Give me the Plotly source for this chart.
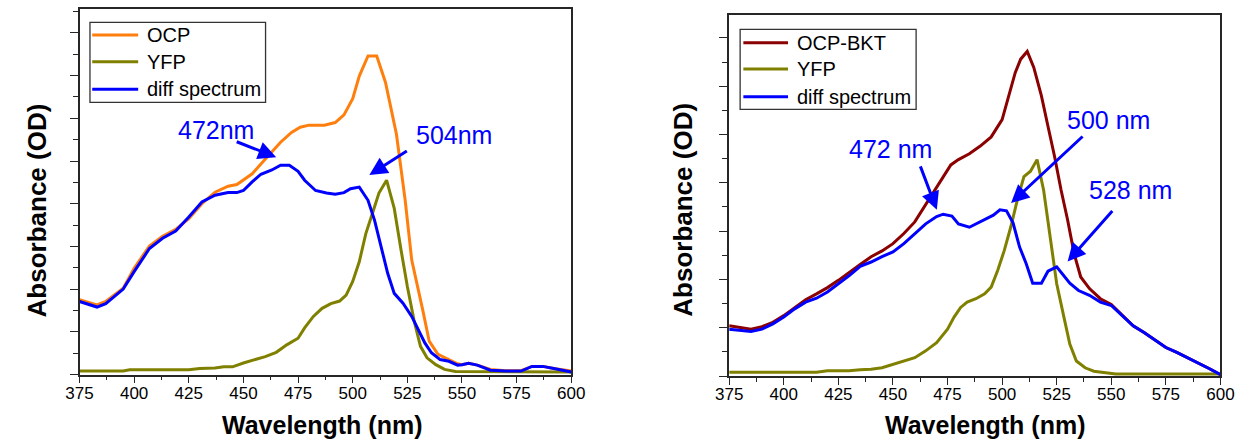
import plotly.graph_objects as go

W, H = 1255, 443

# ---- Left panel: OCP ----
ocp_wl = [375, 383, 387, 395, 400, 407, 413, 419, 425, 431, 437, 443, 447, 450,
          454, 458, 463, 467, 472, 476, 480, 487, 492, 496, 500, 503, 507, 511,
          515, 520, 524, 527, 532, 535, 539, 544, 548, 550, 553, 557, 563, 570,
          577, 582, 587, 592, 600]
ocp_abs = [0.175, 0.163, 0.171, 0.202, 0.249, 0.301, 0.324, 0.340, 0.365, 0.400,
           0.427, 0.441, 0.445, 0.455, 0.470, 0.493, 0.521, 0.544, 0.567, 0.579,
           0.584, 0.584, 0.590, 0.608, 0.646, 0.699, 0.746, 0.746, 0.684, 0.563,
           0.408, 0.268, 0.152, 0.078, 0.047, 0.035, 0.025, 0.023, 0.026, 0.022,
           0.012, 0.009, 0.009, 0.019, 0.019, 0.014, 0.008]

yfp1_wl = [375, 395, 398, 425, 430, 437, 441, 445, 450, 455, 460, 465, 470, 475,
           478, 482, 486, 490, 494, 497, 500, 503, 506, 509, 512, 515.5, 519, 522,
           525, 528, 531, 534, 538, 542, 547, 600]
yfp1_abs = [0.008, 0.008, 0.011, 0.011, 0.014, 0.015, 0.018, 0.018, 0.027, 0.034,
            0.042, 0.052, 0.070, 0.085, 0.109, 0.136, 0.155, 0.166, 0.172, 0.186,
            0.218, 0.264, 0.330, 0.377, 0.425, 0.455, 0.389, 0.295, 0.206, 0.128,
            0.066, 0.039, 0.023, 0.012, 0.007, 0.006]

diff1_wl = [375, 383, 387, 395, 400, 407, 413, 419, 425, 431, 437, 443, 447, 450,
            454, 458, 463, 467, 471, 475, 478, 483, 488, 492, 496, 499, 503, 507,
            510, 513, 516, 519, 523, 527, 530, 533, 536, 540, 544, 548, 550, 553,
            557, 563, 570, 577, 582, 587, 592, 600]
diff1_abs = [0.171, 0.158, 0.166, 0.200, 0.241, 0.295, 0.319, 0.336, 0.369, 0.404,
             0.420, 0.426, 0.426, 0.431, 0.451, 0.469, 0.479, 0.490, 0.490, 0.476,
             0.455, 0.431, 0.425, 0.422, 0.426, 0.435, 0.439, 0.408, 0.361, 0.299,
             0.237, 0.190, 0.167, 0.136, 0.105, 0.074, 0.051, 0.035, 0.031, 0.022,
             0.023, 0.026, 0.022, 0.010, 0.008, 0.008, 0.019, 0.019, 0.014, 0.006]

# ---- Right panel: OCP-BKT ----
bkt_wl = [375, 380, 385, 390, 395, 400, 405, 410, 415, 420, 425, 430, 435, 440,
          445, 450, 455, 460, 465, 470, 473, 476.5, 480, 485, 490, 495, 500, 503,
          506, 508.5, 511.5, 514.5, 518, 521, 524, 527, 530, 533, 536, 540, 545,
          550, 555, 560, 565, 570, 575, 580, 585, 590, 595, 600]
bkt_abs = [0.104, 0.101, 0.097, 0.102, 0.111, 0.125, 0.142, 0.158, 0.170, 0.183,
           0.198, 0.215, 0.231, 0.247, 0.259, 0.274, 0.295, 0.319, 0.354, 0.389,
           0.410, 0.437, 0.448, 0.460, 0.476, 0.495, 0.531, 0.580, 0.628, 0.656,
           0.672, 0.639, 0.580, 0.517, 0.455, 0.385, 0.323, 0.253, 0.205, 0.181,
           0.160, 0.148, 0.125, 0.104, 0.090, 0.074, 0.059, 0.049, 0.038, 0.026,
           0.015, 0.003]

yfp2_wl = [375, 415, 420, 430, 435, 440, 445, 450, 455, 460, 465, 470, 475, 478,
           481, 484, 488, 492, 495, 498, 501, 504, 507, 510, 513, 516, 519, 522,
           525, 528, 531, 534, 538, 542, 548, 552, 600]
yfp2_abs = [0.008, 0.008, 0.011, 0.011, 0.013, 0.014, 0.017, 0.024, 0.030, 0.038,
            0.052, 0.069, 0.097, 0.122, 0.142, 0.153, 0.160, 0.170, 0.184, 0.219,
            0.260, 0.309, 0.365, 0.413, 0.424, 0.448, 0.385, 0.288, 0.191, 0.128,
            0.066, 0.031, 0.017, 0.010, 0.006, 0.004, 0.004]

diff2_wl = [375, 380, 385, 390, 395, 400, 405, 410, 415, 420, 425, 430, 435, 440,
            445, 450, 455, 460, 465, 470, 473, 477, 480, 485, 488, 492, 496, 499,
            502, 505, 508, 511, 514, 518, 521, 525, 528, 531, 535, 540, 545, 550,
            555, 560, 565, 570, 575, 580, 585, 590, 595, 600]
diff2_abs = [0.097, 0.094, 0.092, 0.097, 0.108, 0.122, 0.139, 0.153, 0.161, 0.174,
             0.191, 0.208, 0.227, 0.236, 0.247, 0.257, 0.274, 0.295, 0.315, 0.330,
             0.335, 0.331, 0.315, 0.308, 0.315, 0.323, 0.333, 0.344, 0.342, 0.317,
             0.267, 0.233, 0.192, 0.192, 0.217, 0.226, 0.210, 0.192, 0.177, 0.167,
             0.153, 0.146, 0.125, 0.104, 0.090, 0.074, 0.059, 0.049, 0.038, 0.026,
             0.015, 0.003]

C_OCP = "#FF7F0E"
C_BKT = "#8B0000"
C_YFP = "#808000"
C_DIFF = "#0000FF"
FONT = "Liberation Sans, Arial, sans-serif"
AXC = "#262626"


def px(x):
    return x / W


def py(y):
    return 1 - y / H


fig = go.Figure()

series = [
    ("x", "y", ocp_wl, ocp_abs, C_OCP),
    ("x", "y", yfp1_wl, yfp1_abs, C_YFP),
    ("x", "y", diff1_wl, diff1_abs, C_DIFF),
    ("x2", "y2", bkt_wl, bkt_abs, C_BKT),
    ("x2", "y2", yfp2_wl, yfp2_abs, C_YFP),
    ("x2", "y2", diff2_wl, diff2_abs, C_DIFF),
]
for xa, ya, xs, ys, col in series:
    fig.add_trace(go.Scatter(x=xs, y=ys, mode="lines", xaxis=xa, yaxis=ya,
                             line=dict(color=col, width=3), showlegend=False,
                             hoverinfo="skip"))

xcommon = dict(range=[375, 600], dtick=25, tick0=375, ticks="outside", ticklen=7,
               tickwidth=1.3, tickcolor=AXC, showline=True, linecolor=AXC,
               linewidth=1.5, mirror=True, showgrid=False, zeroline=False,
               ticklabelstandoff=-5,
               tickfont=dict(family=FONT, size=17, color="black"),
               minor=dict(dtick=12.5, ticks="outside", ticklen=4, tickcolor=AXC,
                          tickwidth=1.3, showgrid=False))
ycommon = dict(dtick=0.1, tick0=0, ticks="outside", ticklen=8, tickwidth=1.3,
               tickcolor=AXC, showline=True, linecolor=AXC, linewidth=1.5,
               mirror=True, showgrid=False, zeroline=False, showticklabels=False,
               minor=dict(dtick=0.05, ticks="outside", ticklen=5, tickcolor=AXC,
                          tickwidth=1.3, showgrid=False))

fig.update_layout(
    width=W, height=H, margin=dict(l=0, r=0, t=0, b=0),
    paper_bgcolor="white", plot_bgcolor="white",
    xaxis=dict(domain=[px(67), px(570)], anchor="y", **xcommon),
    yaxis=dict(domain=[py(374.5), py(8.7)], anchor="x", range=[0, 0.8567], **ycommon),
    xaxis2=dict(domain=[px(731.5), px(1234)], anchor="y2", **xcommon),
    yaxis2=dict(domain=[py(376), py(15.3)], anchor="x2", range=[0, 0.7468], **ycommon),
)

annotations = []
# axis titles
for cx in (315, 993):
    annotations.append(dict(x=px(cx), y=py(425), xref="paper", yref="paper",
                            text="<b>Wavelength (nm)</b>", showarrow=False,
                            font=dict(family=FONT, size=25, color="black"),
                            xanchor="center", yanchor="middle"))
for cx in (24, 684):
    annotations.append(dict(x=px(cx), y=py(210), xref="paper", yref="paper",
                            text="<b>Absorbance (OD)</b>", showarrow=False,
                            textangle=-90,
                            font=dict(family=FONT, size=26, color="black"),
                            xanchor="center", yanchor="middle"))

# peak labels
labels = [("472nm", 207, 130), ("504nm", 450, 135),
          ("472 nm", 896, 149), ("500 nm", 1119, 120), ("528 nm", 1142, 190)]
for txt, cx, cy in labels:
    annotations.append(dict(x=px(cx), y=py(cy), xref="paper", yref="paper",
                            text=txt, showarrow=False,
                            font=dict(family=FONT, size=25, color=C_DIFF),
                            xanchor="center", yanchor="middle"))

# arrows pointing at the bands (head in data coords, tail offset in px)
arrows = [("x", "y", 465.0, 0.509, -41, -16),
          ("x", "y", 507.6, 0.467, 39, -25),
          ("x2", "y2", 470.1, 0.344, -17, -45),
          ("x2", "y2", 504.1, 0.358, 73, -68),
          ("x2", "y2", 530.0, 0.237, 46, -52)]
for xr, yr, hx, hy, ax, ay in arrows:
    annotations.append(dict(x=hx, y=hy, xref=xr, yref=yr, ax=ax, ay=ay,
                            text="", showarrow=True, arrowhead=2, arrowsize=1.2,
                            arrowwidth=3, arrowcolor=C_DIFF, standoff=0))

# legends
shapes = []
legends = [
    ((77.7, 22.3, 257.3, 102.3), 80, 127, 134,
     [("OCP", C_OCP, 35), ("YFP", C_YFP, 61.7), ("diff spectrum", C_DIFF, 89.3)]),
    ((742.7, 29.3, 922.7, 109.3), 746, 791.7, 799.3,
     [("OCP-BKT", C_BKT, 42.7), ("YFP", C_YFP, 69), ("diff spectrum", C_DIFF, 96.7)]),
]
for (x0, y0, x1, y1), lx0, lx1, tx, items in legends:
    shapes.append(dict(type="rect", xref="paper", yref="paper",
                       x0=px(x0), x1=px(x1), y0=py(y1), y1=py(y0),
                       line=dict(color="#333333", width=1.3), fillcolor="white",
                       layer="above"))
    for name, col, ly in items:
        shapes.append(dict(type="line", xref="paper", yref="paper",
                           x0=px(lx0), x1=px(lx1), y0=py(ly), y1=py(ly),
                           line=dict(color=col, width=3), layer="above"))
        annotations.append(dict(x=px(tx), y=py(ly), xref="paper", yref="paper",
                                text=name, showarrow=False,
                                font=dict(family=FONT, size=20, color="black"),
                                xanchor="left", yanchor="middle"))

fig.update_layout(annotations=annotations, shapes=shapes)
fig.write_html("out.html")
